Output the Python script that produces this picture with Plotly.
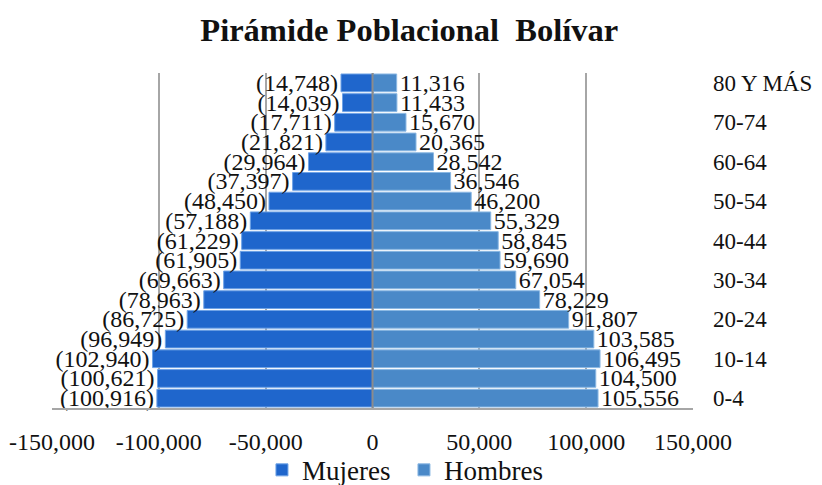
import plotly.graph_objects as go

age_groups = ["0-4", "5-9", "10-14", "15-19", "20-24", "25-29", "30-34", "35-39",
              "40-44", "45-49", "50-54", "55-59", "60-64", "65-69", "70-74", "75-79",
              "80 Y MÁS"]
mujeres = [100916, 100621, 102940, 96949, 86725, 78963, 69663, 61905, 61229,
           57188, 48450, 37397, 29964, 21821, 17711, 14039, 14748]
hombres = [105556, 104500, 106495, 103585, 91807, 78229, 67054, 59690, 58845,
           55329, 46200, 36546, 28542, 20365, 15670, 11433, 11316]
x_tick_vals = [-150000, -100000, -50000, 0, 50000, 100000, 150000]
x_tick_labels = ["-150,000", "-100,000", "-50,000", "0", "50,000", "100,000", "150,000"]
y_tick_labels = ["0-4", "10-14", "20-24", "30-34", "40-44", "50-54", "60-64", "70-74", "80 Y MÁS"]

FONT = "Liberation Serif"
FS = 24

fig = go.Figure()
fig.add_trace(go.Bar(
    y=age_groups, x=[-v for v in mujeres], orientation="h", name="Mujeres",
    text=[f"({v:,})" for v in mujeres], textposition="outside",
    textfont=dict(family=FONT, size=FS, color="#111"),
    constraintext="none", cliponaxis=False,
    marker=dict(color="#1f66cc", line=dict(color="#6fa3e6", width=1)),
))
fig.add_trace(go.Bar(
    y=age_groups, x=hombres, orientation="h", name="Hombres",
    text=[f"{v:,}" for v in hombres], textposition="outside",
    textfont=dict(family=FONT, size=FS, color="#111"),
    constraintext="none", cliponaxis=False,
    marker=dict(color="#4a89c8", line=dict(color="#8bb8e3", width=1)),
))

fig.add_shape(type="line", xref="x", yref="paper", x0=0, x1=0, y0=0, y1=1,
              line=dict(color="#8c8c8c", width=2), layer="above")

# page body has an 8px margin, so the figure is offset by 8px
fig.update_layout(
    width=814, height=477,
    margin=dict(l=44, r=129, t=65, b=77, autoexpand=False),
    paper_bgcolor="white", plot_bgcolor="white",
    barmode="overlay", bargap=0.1,
    font=dict(family=FONT, size=FS, color="#111"),
    title=dict(text="<b>Pirámide Poblacional  Bolívar</b>", x=0.493, xref="container",
               xanchor="center", y=0.954, yanchor="middle",
               font=dict(family=FONT, size=32.5, color="#111")),
    xaxis=dict(range=[-150000, 150000], tickvals=x_tick_vals, ticktext=x_tick_labels,
               showgrid=True, gridcolor="#a6a6a6", gridwidth=1.5,
               zeroline=False, showline=True, linecolor="#a6a6a6", linewidth=1.5,
               ticks="", ticklabelstandoff=11, automargin=False,
               tickfont=dict(family=FONT, size=FS, color="#111")),
    yaxis=dict(side="right", tickmode="array", tickvals=y_tick_labels, ticktext=y_tick_labels,
               showgrid=False, zeroline=False, showline=False, ticks="",
               ticklabelstandoff=19, categoryorder="array", categoryarray=age_groups,
               automargin=False,
               tickfont=dict(family=FONT, size=23, color="#111")),
    legend=dict(orientation="h", x=0.312, xref="container", xanchor="left",
                y=-0.186, yanchor="middle",
                bgcolor="rgba(0,0,0,0)", entrywidth=97,
                font=dict(family=FONT, size=27, color="#111"), itemwidth=30),
    showlegend=True,
)

fig.write_html("out.html")
